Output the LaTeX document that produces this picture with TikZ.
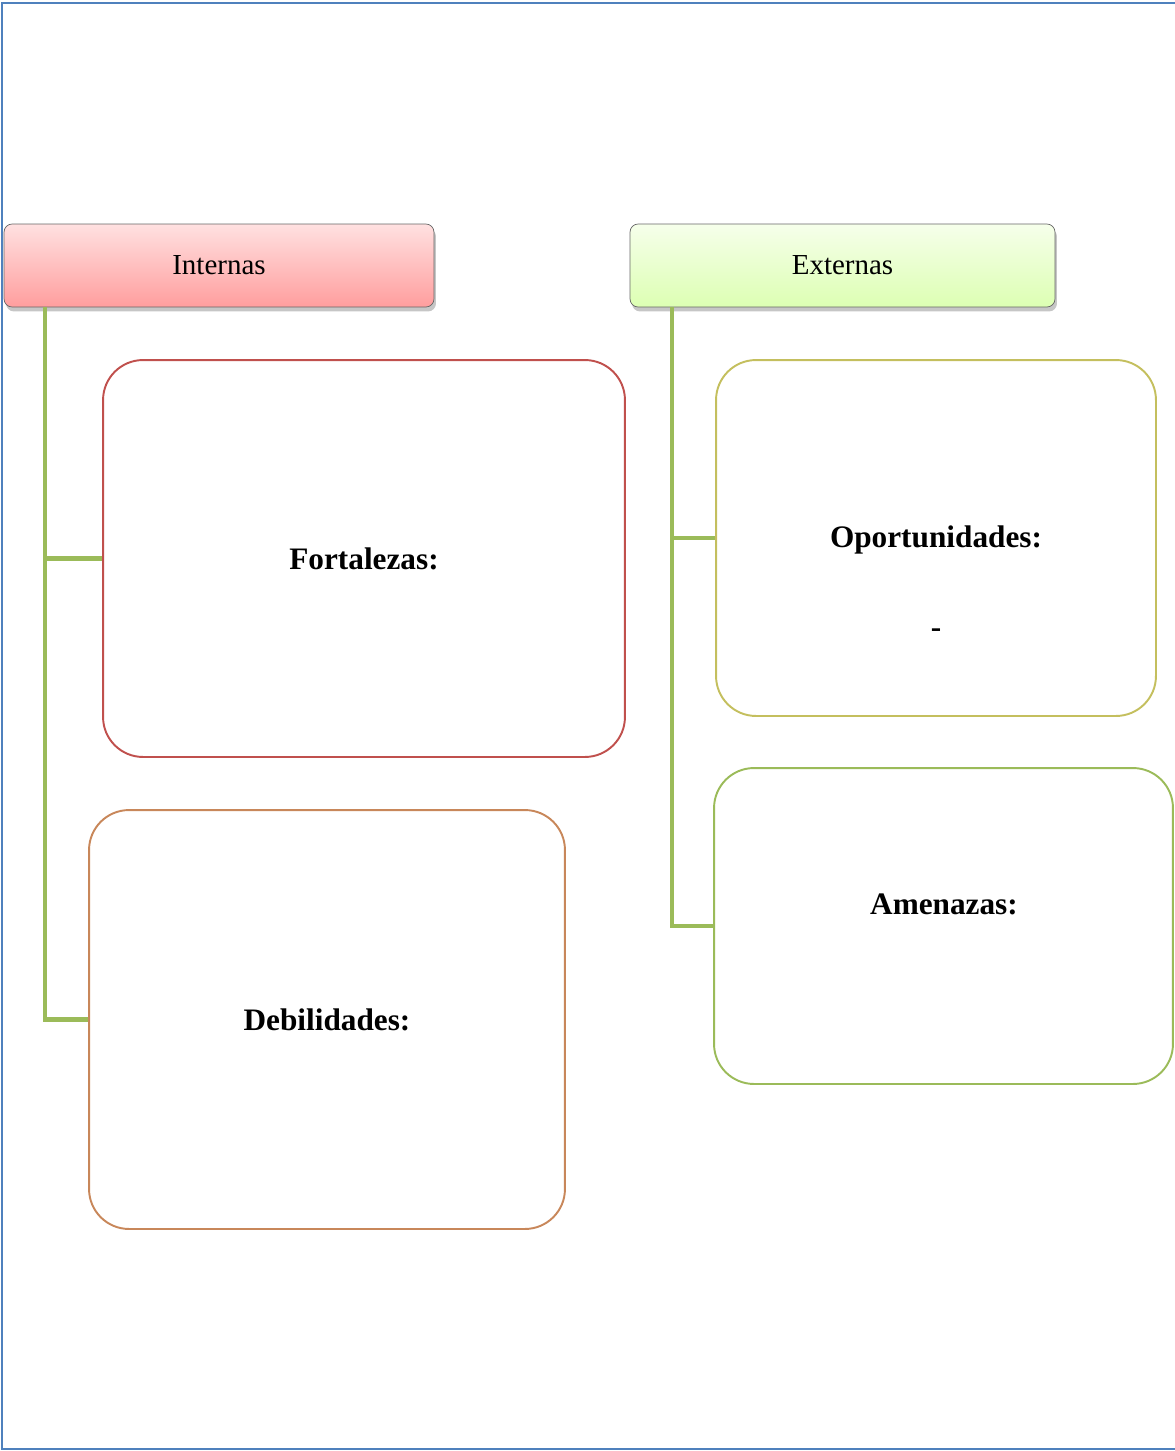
\documentclass[tikz,border=0pt]{standalone}
\usepackage{fontspec}
\setmainfont{Liberation Serif}
\usetikzlibrary{shadows}
\definecolor{frameblue}{HTML}{4F81BD}
\definecolor{linkgreen}{HTML}{9BBB59}
\definecolor{fortred}{HTML}{C0504D}
\definecolor{debbrown}{HTML}{C8875A}
\definecolor{opoolive}{HTML}{C4BF5E}

\begin{document}
\begin{tikzpicture}[
	x=0.02cm,
	y=-0.02cm,
	align=center,
	head/.style={
		rectangle,
		draw=gray!80!black,
		rounded corners=0.16cm,
		minimum height=1.66cm,
		font=\fontsize{16.5}{19}\selectfont,
		drop shadow={opacity=0.45, shadow xshift=0.04cm, shadow yshift=-0.09cm}
	},
	swotbox/.style={
		rectangle,
		draw,
		line width=1.1pt,
		rounded corners=0.8cm,
		font=\bfseries\fontsize{17.8}{20}\selectfont
	},
	swottext/.style={
		font=\bfseries\fontsize{17.8}{20}\selectfont
	},
	link/.style={
		draw=linkgreen,
		line width=2.4pt
	}]

	\useasboundingbox (0,0) rectangle (1174,1451);
	% page frame
	\draw[frameblue, line width=1.2pt] (1180,3) -- (2,3) -- (2,1449) -- (1180,1449);

	% headers
	\node[head, minimum width=8.6cm, top color=red!12, bottom color=red!38!white] (h_int) at (219,265.5) {Internas};
	\node[head, minimum width=8.5cm, top color=green!45!yellow!8, bottom color=green!45!yellow!30] (h_ext) at (842.5,265.5) {Externas};

	% boxes
	\node[swotbox, draw=fortred, minimum width=10.44cm, minimum height=7.94cm] (fort) at (364,558.5) {Fortalezas:};
	\node[swotbox, draw=debbrown, minimum width=9.52cm, minimum height=8.38cm] (deb) at (327,1019.5) {Debilidades:};
	\node[swotbox, draw=opoolive, minimum width=8.8cm, minimum height=7.12cm] (opo) at (936,538) {};
	\node[swottext] (opo_txt) at (936,540) {Oportunidades:};
	\node[swottext] (opo_dash) at (936,633) {-};
	\node[swotbox, draw=linkgreen, minimum width=9.18cm, minimum height=6.32cm] (ame) at (943.5,926) {};
	\node[swottext] (ame_txt) at (944,904) {Amenazas:};

	% connectors
	\coordinate (t_int) at (45,307);
	\coordinate (t_ext) at (672,307);
	\draw[link] (h_int.south -| t_int) |- (fort.west);
	\draw[link] (h_int.south -| t_int) |- (deb.west);
	\draw[link] (h_ext.south -| t_ext) |- (opo.west);
	\draw[link] (h_ext.south -| t_ext) |- (ame.west);
\end{tikzpicture}
\end{document}
